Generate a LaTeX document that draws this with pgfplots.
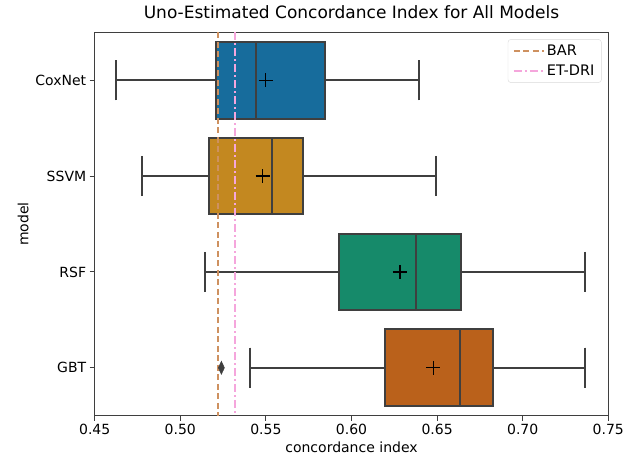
\documentclass[border=0pt]{standalone}
\usepackage{pgfplots}
\pgfplotsset{compat=1.18}
\usepgfplotslibrary{statistics}
\usepackage{fontspec}
\setmainfont{DejaVu Sans}
\definecolor{cox}{HTML}{176C9C}
\definecolor{ssvm}{HTML}{C38820}
\definecolor{rsf}{HTML}{168A6A}
\definecolor{gbt}{HTML}{BA611B}
\definecolor{edge}{HTML}{3F3F3F}
\definecolor{bar}{HTML}{CE9160}
\definecolor{etdri}{HTML}{F5A6DC}

\begin{document}
\begin{tikzpicture}
\begin{axis}[
  scale only axis,
  width=513.6pt, height=383.4pt,
  xmin=0.45, xmax=0.75,
  ymin=-0.5, ymax=3.5,
  y dir=reverse,
  xtick={0.45,0.5,...,0.76},
  ytick={0,1,2,3},
  yticklabels={CoxNet,SSVM,RSF,GBT},
  xticklabel style={/pgf/number format/.cd, fixed, fixed zerofill, precision=2, assume math mode=true},
  tick label style={font=\fontsize{14}{16}\selectfont},
  label style={font=\fontsize{14}{16}\selectfont},
  xlabel={concordance index},
  ylabel={model},
  title={Uno-Estimated Concordance Index for All Models},
  title style={font=\fontsize{17}{19}\selectfont, anchor=base, at={(0.5,1)}, yshift=8pt},
  axis line style={edge, line width=1pt},
  tick style={edge, line width=1pt},
  tick align=outside,
  major tick length=5pt,
  xtick pos=bottom, ytick pos=left,
  boxplot/draw direction=x,
  boxplot/box extend=0.8,
  boxplot/whisker extend=0.42,
  legend style={at={(0.987,0.982)}, anchor=north east, font=\fontsize{14.5}{16}\selectfont,
    draw=black!15, rounded corners=3pt, row sep=3pt, inner xsep=5pt, inner ysep=4pt},
  legend cell align=left,
  legend image code/.code={\draw[#1] (0pt,0pt) -- (30pt,0pt);},
]
\addplot[forget plot, fill=cox, draw=edge, line width=1.9pt,
  boxplot prepared={lower whisker=0.4624, lower quartile=0.5209, median=0.5440,
    upper quartile=0.5845, upper whisker=0.6394, draw position=0}]
  coordinates {};
\addplot[forget plot, fill=ssvm, draw=edge, line width=1.9pt,
  boxplot prepared={lower whisker=0.4774, lower quartile=0.5169, median=0.5534,
    upper quartile=0.5719, upper whisker=0.6492, draw position=1}]
  coordinates {};
\addplot[forget plot, fill=rsf, draw=edge, line width=1.9pt,
  boxplot prepared={lower whisker=0.5144, lower quartile=0.5927, median=0.6377,
    upper quartile=0.6641, upper whisker=0.7364, draw position=2}]
  coordinates {};
\addplot[forget plot, fill=gbt, draw=edge, line width=1.9pt,
  boxplot prepared={lower whisker=0.5409, lower quartile=0.6196, median=0.6636,
    upper quartile=0.6827, upper whisker=0.7364, draw position=3}]
  coordinates {};
% outlier
\addplot[forget plot, only marks, mark=diamond*, mark size=6.5pt, mark options={fill=edge, draw=edge, line width=0.5pt, xscale=0.62}]
  coordinates {(0.5240,3)};
% means
\addplot[forget plot, only marks, mark=+, mark size=7pt, mark options={black, line width=1.2pt}]
  coordinates {(0.5499,0) (0.5481,1) (0.6283,2) (0.6478,3)};
% reference lines
\addplot[bar, line width=2pt, dash pattern=on 6pt off 3.5pt] coordinates {(0.5222,-0.5) (0.5222,3.5)};
\addlegendentry{BAR}
\addplot[etdri, line width=2pt, dash pattern=on 8pt off 3pt on 2pt off 3pt] coordinates {(0.5321,-0.5) (0.5321,3.5)};
\addlegendentry{ET-DRI}
\end{axis}
\pgfresetboundingbox
\path (-94.7pt,-43.3pt) rectangle (528.3pt,415.7pt);
\end{tikzpicture}
\end{document}
